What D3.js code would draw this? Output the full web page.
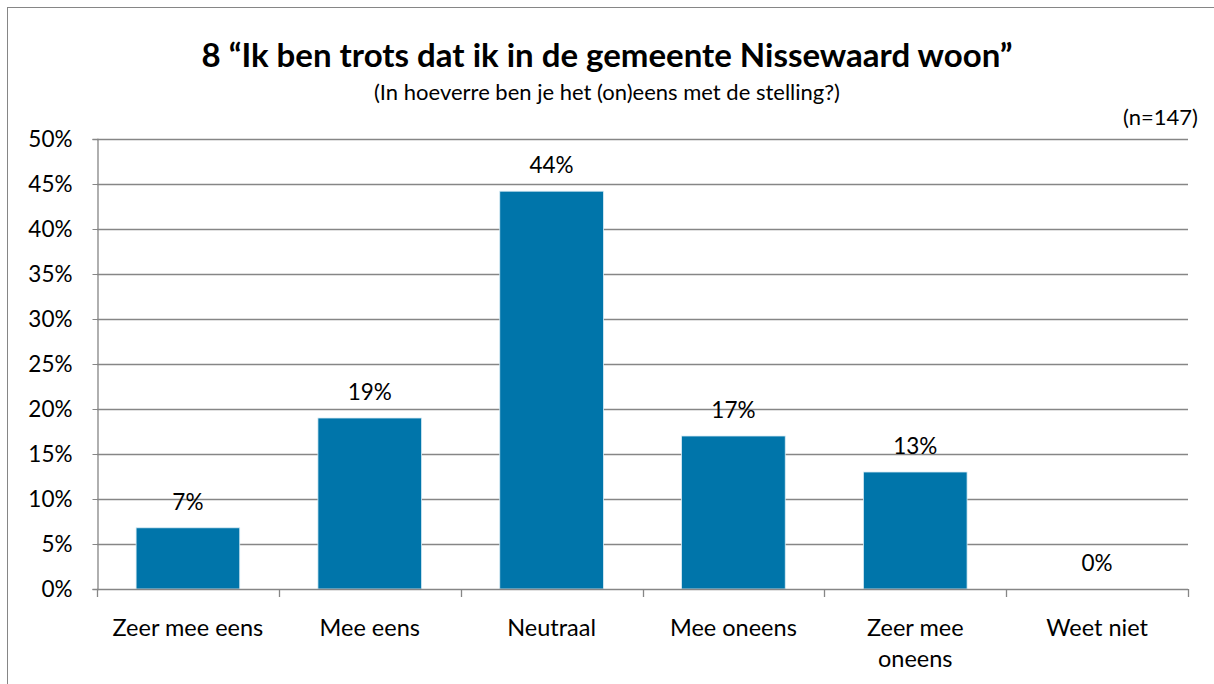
<!DOCTYPE html>
<html><head><meta charset="utf-8">
<script src="https://cdn.jsdelivr.net/npm/d3@7"></script>
<style>body{margin:0;background:#fff}svg{display:block}text{font-family:Lato,"Open Sans",sans-serif;fill:#000}</style>
</head><body><svg id="c" width="1214" height="684"></svg>
<script>
const categories = ["Zeer mee eens","Mee eens","Neutraal","Mee oneens","Zeer mee oneens","Weet niet"];
const categoryLines = [["Zeer mee eens"],["Mee eens"],["Neutraal"],["Mee oneens"],["Zeer mee","oneens"],["Weet niet"]];
const values = [6.8, 19.0, 44.2, 17.0, 13.0, 0];
const valueLabels = ["7%","19%","44%","17%","13%","0%"];
const yTicks = [0,5,10,15,20,25,30,35,40,45,50];
const title = "8 \u201cIk ben trots dat ik in de gemeente Nissewaard woon\u201d";
const subtitle = "(In hoeverre ben je het (on)eens met de stelling?)";
const nLabel = "(n=147)";

const svg = d3.select("#c");
svg.append("rect").attr("x",7.5).attr("y",7.5).attr("width",1220).attr("height",690).attr("fill","none").attr("stroke","#868686").attr("stroke-width",1);

const L=97,R=1188,T=139,B=589;
const x = d3.scaleBand().domain(categories).range([L,R]).paddingInner(0.43).paddingOuter(0.215);
const xb = d3.scaleBand().domain(categories).range([L,R]);
const y = d3.scaleLinear().domain([0,50]).range([B,T]);

svg.append("g").selectAll("line").data(yTicks.filter(d=>d>0)).join("line")
  .attr("x1",L).attr("x2",R).attr("y1",d=>Math.round(y(d))+0.5).attr("y2",d=>Math.round(y(d))+0.5)
  .attr("stroke","#868686").attr("stroke-width",1.3);

const ya = svg.append("g").attr("transform",`translate(${L+0.5},0)`)
  .call(d3.axisLeft(y).tickValues(yTicks).tickSize(5).tickFormat(d=>d+"%"));
ya.select(".domain").attr("stroke","#868686").attr("stroke-width",1.3);
ya.selectAll(".tick line").attr("stroke","#868686");
ya.selectAll("text").attr("font-size",22.5).attr("x",-25).attr("dy","0.35em").style("font-family","Lato");

svg.append("g").selectAll("rect").data(values).join("rect")
  .attr("x",(d,i)=>x(categories[i])).attr("width",x.bandwidth())
  .attr("y",d=>y(d)).attr("height",d=>B-y(d))
  .attr("fill","#0075AA").attr("stroke","#d8ecf5").attr("stroke-width",0.8);

svg.append("line").attr("x1",L).attr("x2",R).attr("y1",B+0.5).attr("y2",B+0.5).attr("stroke","#868686").attr("stroke-width",1.3);
const bounds = categories.map(c=>xb(c)).concat([R]);
svg.append("g").selectAll("line").data(bounds).join("line")
  .attr("x1",d=>Math.round(d)+0.5).attr("x2",d=>Math.round(d)+0.5).attr("y1",B).attr("y2",B+8)
  .attr("stroke","#868686").attr("stroke-width",1.3);

const xl = svg.append("g").selectAll("text").data(categoryLines).join("text")
  .attr("text-anchor","middle").attr("font-size",23.5)
  .attr("x",(d,i)=>xb(categories[i])+xb.bandwidth()/2).attr("y",636);
xl.selectAll("tspan").data(d=>d).join("tspan")
  .attr("x",function(){return this.parentNode.getAttribute("x");})
  .attr("dy",(d,i)=>i===0?0:31).text(d=>d);

svg.append("g").selectAll("text").data(values).join("text")
  .attr("text-anchor","middle").attr("font-size",22.5)
  .attr("x",(d,i)=>x(categories[i])+x.bandwidth()/2).attr("y",d=>y(d)-18)
  .text((d,i)=>valueLabels[i]);

svg.append("text").attr("x",607).attr("y",67).attr("text-anchor","middle").attr("font-size",33).attr("font-weight","bold").text(title);
svg.append("text").attr("x",607).attr("y",100).attr("text-anchor","middle").attr("font-size",22).text(subtitle);
svg.append("text").attr("x",1198).attr("y",125).attr("text-anchor","end").attr("font-size",22).text(nLabel);
</script></body></html>
